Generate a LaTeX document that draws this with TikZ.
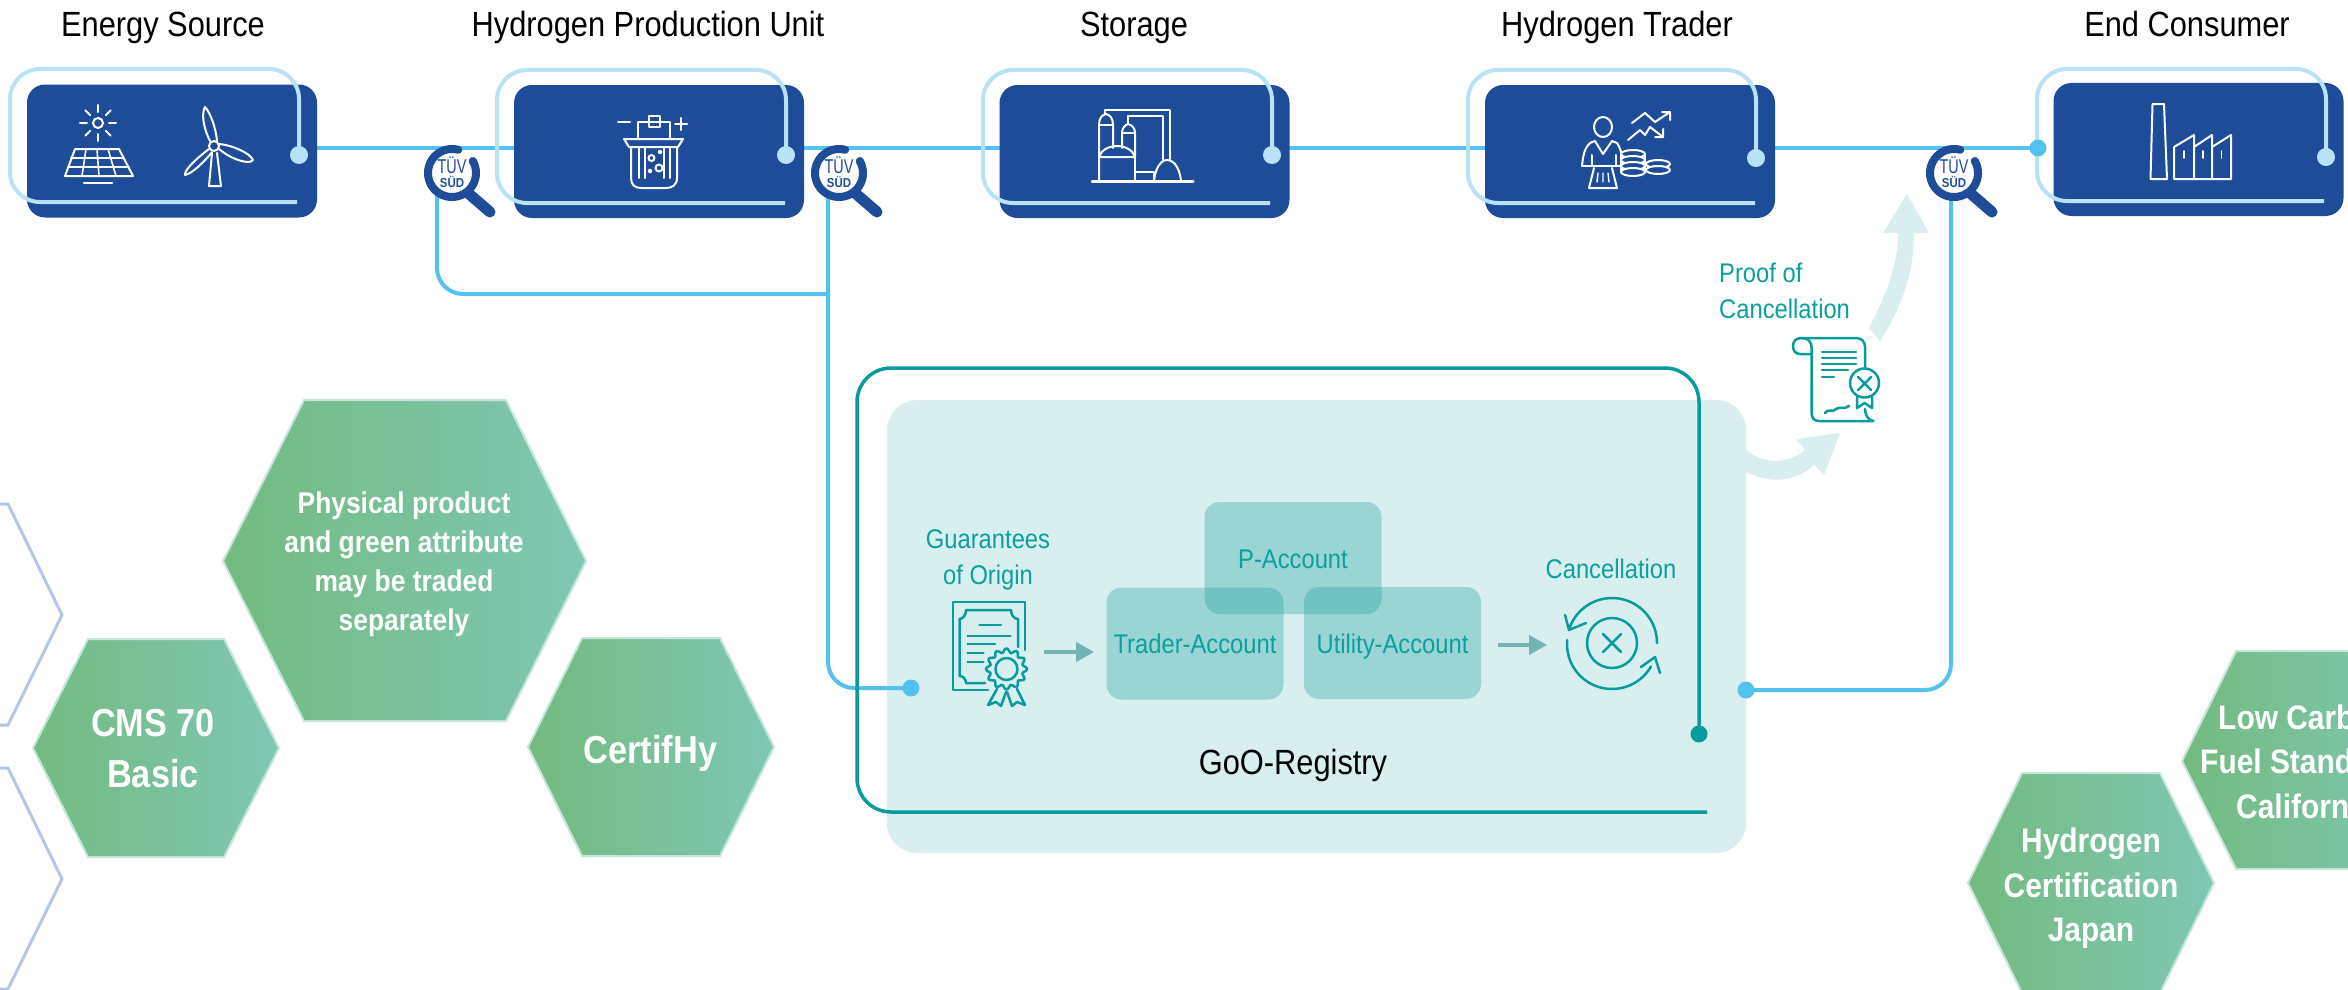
\documentclass[tikz,border=0pt]{standalone}
\usepackage{fontspec}
\setmainfont{Liberation Sans}
\newfontfamily\nf[FakeStretch=0.88]{Liberation Sans}
\newfontfamily\tf[FakeStretch=0.72]{Liberation Sans}
\usetikzlibrary{arrows.meta}
\definecolor{boxblue}{HTML}{1F4C99}
\definecolor{lightline}{HTML}{B9E2F6}
\definecolor{cyanline}{HTML}{55C1EE}
\definecolor{panelc}{HTML}{D9EEEF}
\definecolor{tealc}{HTML}{069B9C}
\definecolor{tealtext}{HTML}{0AA09E}
\definecolor{acctc}{RGB}{30,162,160}
\definecolor{greyarrow}{HTML}{74B3B3}
\definecolor{hexl}{HTML}{74BA80}
\definecolor{hexr}{HTML}{7FC7B4}
\definecolor{hexb}{HTML}{C6E6DB}
\definecolor{chev}{HTML}{B3C7EA}
\tikzset{
  x=1pt,y=-1pt,
  topbox/.style={draw=none,fill=boxblue,rounded corners=18pt,minimum width=290pt,minimum height=133pt,inner sep=0pt},
  flow/.style={draw=cyanline,line width=4.5pt},
  branch/.style={draw=cyanline,line width=4pt,rounded corners=26pt},
  outl/.style={draw=lightline,line width=4pt,rounded corners=30pt},
  ldot/.style={circle,fill=lightline,minimum size=18pt,inner sep=0pt},
  cdot/.style={circle,fill=cyanline,minimum size=17pt,inner sep=0pt},
  tdot/.style={circle,fill=tealc,minimum size=17pt,inner sep=0pt},
  head/.style={font=\nf\fontsize{35}{40}\selectfont,anchor=base,inner sep=0pt,text=black},
  tlab/.style={font=\nf\fontsize{27}{36}\selectfont,anchor=base,inner sep=0pt,text=tealtext,align=center},
  acct/.style={fill=acctc,fill opacity=.33,text opacity=1,text=tealtext,rounded corners=15pt,minimum width=177pt,minimum height=112pt,inner sep=0pt,font=\nf\fontsize{27}{36}\selectfont,text height=20pt,text depth=0pt},
  panel/.style={fill=panelc,rounded corners=30pt,minimum width=859pt,minimum height=453pt,inner sep=0pt},
  tealout/.style={draw=tealc,line width=3.5pt},
  garrow/.style={draw=greyarrow,line width=4pt,-{Triangle[length=18pt,width=19pt]}},
  pale/.style={fill=panelc},
  wicon/.style={draw=white,line width=2pt,line join=round,line cap=round},
  ticon/.style={draw=tealc,line width=2.5pt,line join=round,line cap=round},
  hexa/.style={draw=hexb,line width=2pt,left color=hexl,right color=hexr,line join=miter},
  chevron/.style={draw=chev,line width=3pt},
  hxbig/.style={font=\nf\bfseries\fontsize{39}{51}\selectfont,text=white,align=center,inner sep=0pt},
  hxmid/.style={font=\nf\bfseries\fontsize{34}{44.5}\selectfont,text=white,align=center,inner sep=0pt},
  hxsmall/.style={font=\nf\bfseries\fontsize{30}{38.7}\selectfont,text=white,align=center,inner sep=0pt},
  maglens/.style={circle,fill=white,minimum size=48pt,inner sep=0pt},
  magring/.style={draw=boxblue,line width=8pt,line cap=round},
  maghandle/.style={draw=boxblue,line width=11pt,line cap=round},
  tuva/.style={font=\tf\fontsize{20}{20}\selectfont,text=boxblue,anchor=base,inner sep=0pt},
  tuvb/.style={font=\nf\bfseries\fontsize{13}{14}\selectfont,text=boxblue,anchor=base,inner sep=0pt},
}
\newcommand\magn[3]{%
  \begin{scope}[shift={(#2,#3)}]
  \node[maglens] (#1) at (0,0) {};
  \draw[magring] plot[domain=-390:-75,samples=60] ({24*cos(\x)},{24*sin(\x)});
  \draw[maghandle] (16,20) -- (38,39);
  \node[tuva] (#1t) at (0,0) {TÜV};
  \node[tuvb] (#1s) at (0,14) {SÜD};
  \end{scope}}
\begin{document}
\begin{tikzpicture}
\useasboundingbox (0,0) rectangle (2348,990);
\clip (0,0) rectangle (2348,990);
\fill[white] (0,0) rectangle (2348,990);
% named points
\coordinate (lineA) at (317,148);
\coordinate (lineEnd) at (2038,148);
\coordinate (m1foot) at (437,190);
\coordinate (m2foot) at (828,190);
\coordinate (m3foot) at (1951,190);
\coordinate (junction) at (828,294);
\coordinate (turn1) at (437,294);
\coordinate (turn2) at (828,688);
\coordinate (goIn) at (911,688);
\coordinate (goOut) at (1746,690);
\coordinate (turn3) at (1951,690);
% headings
\node[head] (h1) at (163,37) {Energy Source};
\node[head] (h2) at (648,37) {Hydrogen Production Unit};
\node[head] (h3) at (1134,37) {Storage};
\node[head] (h4) at (1617,37) {Hydrogen Trader};
\node[head] (h5) at (2187,37) {End Consumer};
% main line
\draw[flow] (lineA) -- (lineEnd);
% boxes
\node[topbox] (b1) at (172,151) {};
\node[topbox] (b2) at (659,151.5) {};
\node[topbox] (b3) at (1144.5,151.5) {};
\node[topbox] (b4) at (1630,151.5) {};
\node[topbox] (b5) at (2198.5,149.5) {};
% outlines
\node[ldot] (d1) at (299,155) {};
\node[ldot] (d2) at (786,155) {};
\node[ldot] (d3) at (1272,155) {};
\node[ldot] (d4) at (1756,158) {};
\node[ldot] (d5) at (2326,157) {};
\draw[outl] (297,202) -- (10,202) -- (10,69) -- (299,69) -- (d1.center);
\draw[outl] (785,203) -- (497,203) -- (497,70) -- (786,70) -- (d2.center);
\draw[outl] (1270,203) -- (983,203) -- (983,70) -- (1272,70) -- (d3.center);
\draw[outl] (1755,203) -- (1468,203) -- (1468,70) -- (1756,70) -- (d4.center);
\draw[outl] (2324,201) -- (2037,201) -- (2037,69) -- (2326,69) -- (d5.center);
\node[cdot] (dEnd) at (lineEnd) {};
% --- icon: sun and panel
\foreach \a in {0,45,...,315}{\draw[wicon] ({98+11*cos(\a)},{123+11*sin(\a)}) -- ({98+18*cos(\a)},{123+18*sin(\a)});}
\draw[wicon] (98,123) circle[radius=5pt];
\draw[wicon] (75,149) -- (119,149) -- (133,176) -- (65,176) -- cycle;
\draw[wicon,line width=1.6pt] (71,158) -- (124,158) (68,167) -- (129,167) (86,149) -- (82,176) (97,149) -- (99,176) (108,149) -- (116,176);
\draw[wicon,line width=2.5pt] (84,183) -- (112,183);
% turbine
\draw[wicon] (210,141) .. controls (202,125) and (202,112) .. (205,107) .. controls (210,112) and (216,128) .. (217,141);
\draw[wicon] (219,149) .. controls (232,160) and (250,165) .. (253,160) .. controls (250,153) and (232,145) .. (219,144);
\draw[wicon] (209,149) .. controls (197,158) and (184,170) .. (185,175) .. controls (192,174) and (206,160) .. (212,152);
\draw[wicon] (214,146) circle[radius=5pt];
\draw[wicon] (212,153) -- (209,186) -- (221,186) -- (217,153);
% --- icon: beaker
\draw[wicon] (618,122) -- (630,122) (675,124) -- (687,124) (681,118) -- (681,130);
\draw[wicon] (638,139) -- (638,122) -- (670,122) -- (670,139);
\draw[wicon] (649,127) -- (649,116) -- (660,116) -- (660,127) -- cycle;
\draw[wicon] (624,139) -- (683,139) -- (678,147) -- (629,147) -- cycle;
\draw[wicon] (631,147) -- (631,178) .. controls (631,185) and (635,188) .. (641,188) -- (666,188) .. controls (672,188) and (677,185) .. (677,178) -- (677,147);
\draw[wicon] (639,147) -- (639,178) (645,147) -- (645,178) (664,147) -- (664,178) (670,147) -- (670,178);
\draw[wicon] (651.5,158) circle[radius=3pt] (659,168) circle[radius=3.5pt] (650,171) circle[radius=1.5pt] (660,152) circle[radius=1.5pt];
% --- icon: plant
\draw[wicon,line width=3pt] (1092,181) -- (1193,181);
\draw[wicon] (1099,181) -- (1099,125) .. controls (1099,118) and (1102,115) .. (1106,114) .. controls (1110,115) and (1113,118) .. (1113,125) -- (1113,148);
\draw[wicon] (1122,148) -- (1122,133) .. controls (1122,128) and (1125,125) .. (1128,124) .. controls (1132,125) and (1135,128) .. (1135,133) -- (1135,157);
\draw[wicon] (1099,125) -- (1113,125) (1122,133) -- (1135,133);
\draw[wicon] (1099,157) .. controls (1101,150) and (1109,146) .. (1117,146) .. controls (1125,146) and (1133,150) .. (1135,157) -- cycle;
\draw[wicon] (1135,157) -- (1135,181) (1135,172) -- (1154,172) -- (1154,181);
\draw[wicon] (1154,181) .. controls (1155,170) and (1160,160) .. (1167,160) .. controls (1175,160) and (1180,170) .. (1181,181);
\draw[wicon] (1105,114) -- (1105,110) -- (1170,110) -- (1170,160);
\draw[wicon] (1128,124) -- (1128,116) -- (1163,116) -- (1163,160);
% --- icon: trader
\draw[wicon] (1603,127) ellipse[x radius=9pt,y radius=10pt];
\draw[wicon] (1582,166) .. controls (1583,155) and (1585,147) .. (1590,143) -- (1595,141) -- (1603,154) -- (1612,141) -- (1617,143) .. controls (1620,147) and (1621,152) .. (1622,155);
\draw[wicon] (1582,166) -- (1620,166) (1592,155) -- (1592,166) (1616,155) -- (1616,166);
\draw[wicon] (1594,168) -- (1589,188) -- (1617,188) -- (1612,168);
\draw[wicon,line width=1.4pt] (1598,173) -- (1597,182) (1603,173) -- (1603,182) (1608,173) -- (1609,182);
\foreach \yy in {154,160,166,172}{\draw[wicon,fill=boxblue] (1621,\yy) arc[start angle=180,end angle=360,x radius=12pt,y radius=4pt] arc[start angle=0,end angle=180,x radius=12pt,y radius=4pt];}
\draw[wicon] (1621,154) -- (1621,172) (1645,154) -- (1645,172);
\foreach \yy in {164,170}{\draw[wicon,fill=boxblue] (1646,\yy) arc[start angle=180,end angle=360,x radius=12pt,y radius=4pt] arc[start angle=0,end angle=180,x radius=12pt,y radius=4pt];}
\draw[wicon] (1632,123) -- (1645,113) -- (1655,122) -- (1670,112) (1662,112) -- (1670,112) -- (1670,120);
\draw[wicon] (1628,140) -- (1640,130) -- (1645,135) -- (1650,127) -- (1663,137) (1655,137) -- (1663,137) -- (1663,129);
% --- icon: factory
\draw[wicon] (2150.5,179) -- (2152.5,104) -- (2164,104) -- (2167,179) -- cycle;
\draw[wicon] (2174,179) -- (2174,147) -- (2194,135) -- (2194,179) (2194,147) -- (2212,135) -- (2212,179) (2212,147) -- (2231,135) -- (2231,179) (2174,179) -- (2231,179);
\draw[wicon,line width=1.6pt] (2184,151) -- (2184,158) (2203,151) -- (2203,158) (2221.5,151) -- (2221.5,158);
% --- registry panel
\node[panel] (reg) at (1316.5,626.5) {};
% pale arrows
\fill[pale] (1869,328) .. controls (1888,290) and (1898,265) .. (1898,233) -- (1883,233) -- (1907,194) -- (1929,233) -- (1914,233) .. controls (1914,275) and (1900,310) .. (1880,341) -- cycle;
\fill[pale] (1746,450) .. controls (1762,463) and (1785,466) .. (1805,450) -- (1796,439) -- (1840,433) -- (1824,475) -- (1814,465) .. controls (1795,482) and (1770,484) .. (1746,472) -- cycle;
% branches
\draw[branch] (m1foot) -- (turn1) -- (junction);
\draw[branch] (m2foot) -- (turn2) -- (goIn);
\draw[branch] (goOut) -- (turn3) -- (m3foot);
% teal outline
\node[tdot] (dTeal) at (1699,734) {};
\draw[tealout,rounded corners=34pt] (1707,812) -- (857,812) -- (857,368) -- (1699,368) -- (dTeal.center);
\node[cdot] (dIn) at (goIn) {};
\node[cdot] (dOut) at (goOut) {};
% magnifiers
\magn{mag1}{452}{173}
\magn{mag2}{839}{173}
\magn{mag3}{1954}{173}
% accounts
\node[acct] (pacc) at (1293,558) {P-Account};
\node[acct] (tacc) at (1195,643.5) {Trader-Account};
\node[acct] (uacc) at (1392.5,643) {Utility-Account};
% labels
\node[tlab,anchor=north] (gol) at (988,529.5) {Guarantees\\of Origin};
\node[tlab] (canl) at (1611,578) {Cancellation};
\node[tlab,anchor=north west,align=left] (proofl) at (1719,263) {Proof of\\Cancellation};
\node[head] (regl) at (1293,774) {GoO-Registry};
% small arrows
\coordinate (a1s) at (1044,652);
\coordinate (a1e) at (1094,652);
\coordinate (a2s) at (1498,645);
\coordinate (a2e) at (1547,645);
\draw[garrow] (a1s) -- (a1e);
\draw[garrow] (a2s) -- (a2e);
% --- icon: certificate
\draw[ticon] (988,690) -- (953,690) -- (953,602) -- (1025,602) -- (1025,650);
\draw[ticon] (985,683) -- (966,683) .. controls (966,679) and (963,676) .. (959.5,676) -- (959.5,619) .. controls (963,619) and (966,615) .. (966,610) -- (1011,610) .. controls (1011,615) and (1014,619) .. (1018,619) -- (1018,647);
\draw[ticon] (979.5,625) -- (1001,625) (967.5,636) -- (1010.5,636) (967.5,644) -- (995,644) (967.5,653) -- (983.5,653) (967.5,662) -- (983.5,662);
\draw[ticon,fill=panelc] plot[domain=0:360,samples=121,smooth] ({1006.5+(18.5+2*cos(12*\x))*cos(\x)},{669+(18.5+2*cos(12*\x))*sin(\x)}) -- cycle;
\draw[ticon] (1006.5,669) circle[radius=11pt];
\draw[ticon] (997,689) -- (988,705) -- (996,702) -- (1001,706) -- (1006,692);
\draw[ticon] (1007,692) -- (1012,706) -- (1017,702) -- (1025,705) -- (1017,689);
% --- icon: cancellation
\draw[ticon] (1612,643) circle[radius=25pt];
\draw[ticon] (1603,634) -- (1621,652) (1621,634) -- (1603,652);
\draw[ticon] plot[domain=-160:0,samples=60] ({1612+45*cos(\x)},{643+45*sin(\x)});
\draw[ticon] plot[domain=-5:150,samples=60] ({1612-45*cos(\x)},{643+45*sin(\x)+1});
\draw[ticon] (1565,615) -- (1569,630) -- (1586,623);
\draw[ticon] (1641,667) -- (1655,657) -- (1660,673);
% --- icon: scroll
\draw[ticon] (1811.5,354) -- (1800,354) .. controls (1795,354) and (1793,350) .. (1793,346) .. controls (1793,341) and (1796,338) .. (1802,338) -- (1856,338) .. controls (1862,338) and (1865,342) .. (1865,347) -- (1865,369);
\draw[ticon] (1802,338) .. controls (1808,338) and (1811.5,342) .. (1811.5,347) -- (1811.5,412) .. controls (1811.5,418) and (1814,421) .. (1819,421) -- (1873.5,421) .. controls (1868,420) and (1865,415) .. (1865,409);
\draw[ticon] (1822,352) -- (1856,352) (1822,358) -- (1856,358) (1822,364) -- (1856,364) (1822,370) -- (1848,370) (1822,377) -- (1834,377);
\draw[ticon] (1825,413) .. controls (1830,407) and (1832,414) .. (1836,409) .. controls (1840,406) and (1844,410) .. (1849,406);
\draw[ticon,fill=white] (1864.5,383) circle[radius=14.5pt];
\draw[ticon] (1858,377) -- (1871,390) (1871,377) -- (1858,390);
\draw[ticon] (1857,397) -- (1857,408) -- (1864.5,403) -- (1872,408) -- (1872,397);
% --- hexagons
\draw[chevron] (-2,504) -- (8,504) -- (62,615) -- (8,725) -- (-2,725);
\draw[chevron] (-2,768) -- (8,768) -- (62,879) -- (8,989) -- (-2,989);
\path[hexa] (223,561) -- (304,400) -- (506,400) -- (586,561) -- (506,721) -- (304,721) -- cycle;
\path[hexa] (33,748) -- (88,639) -- (224,639) -- (279,748) -- (224,857) -- (88,857) -- cycle;
\path[hexa] (528,747) -- (582,638) -- (720,638) -- (774,747) -- (720,856) -- (582,856) -- cycle;
\path[hexa] (2182,761) -- (2236,651) -- (2374,651) -- (2428,761) -- (2374,869) -- (2236,869) -- cycle;
\path[hexa] (1968,883) -- (2022,773) -- (2160,773) -- (2214,883) -- (2160,993) -- (2022,993) -- cycle;
\node[hxsmall,anchor=north] (hx1) at (404,492) {Physical product\\and green attribute\\may be traded\\separately};
\node[hxbig,anchor=north] (hx2) at (153,709) {CMS 70\\Basic};
\node[hxbig,anchor=base] (hx3) at (650.5,763) {CertifHy};
\node[hxmid,anchor=north] (hx4) at (2091,828) {Hydrogen\\Certification\\Japan};
\node[hxmid,anchor=base west] (hx5a) at (2218,729) {Low Carb};
\node[hxmid,anchor=base west] (hx5b) at (2200,773) {Fuel Stand};
\node[hxmid,anchor=base west] (hx5c) at (2236,818) {Californ};
\end{tikzpicture}
\end{document}
